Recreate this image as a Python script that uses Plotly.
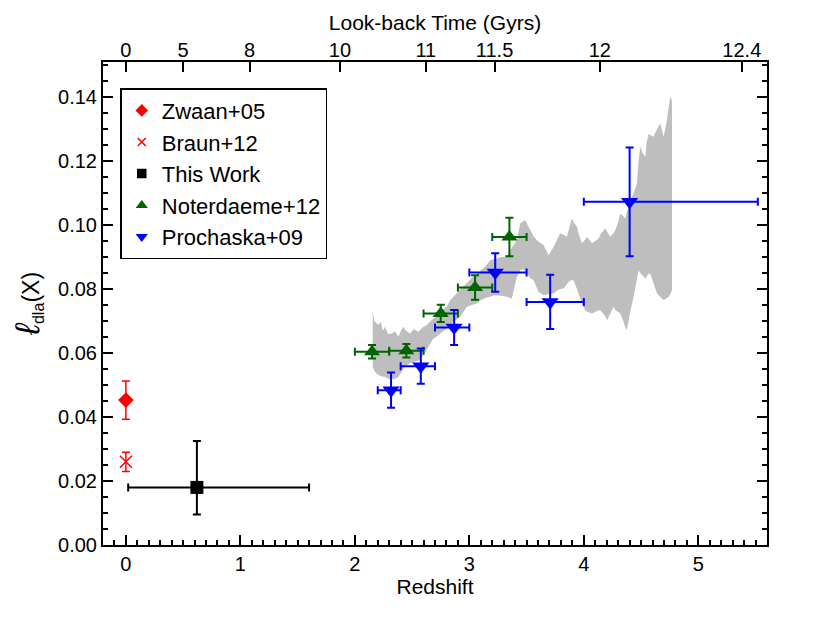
import plotly.graph_objects as go

# --- data ---
zwaan_z = [0.0]
zwaan_l = [0.0453]
zwaan_err = [0.006]

braun_z = [0.0]
braun_l = [0.026]
braun_err = [0.003]

work_z = [0.62]
work_l = [0.018]
work_zlo = [0.60]
work_zhi = [0.98]
work_llo = [0.0085]
work_lhi = [0.0145]

noter_z = [2.15, 2.45, 2.75, 3.05, 3.35]
noter_l = [0.0604, 0.0607, 0.0724, 0.0805, 0.0963]
noter_zerr = [0.15, 0.15, 0.15, 0.15, 0.15]
noter_lerr = [0.0021, 0.0021, 0.0027, 0.0038, 0.006]

proch_z = [2.316, 2.576, 2.867, 3.226, 3.706, 4.40]
proch_l = [0.0484, 0.0559, 0.068, 0.0852, 0.076, 0.1073]
proch_zlo = [0.116, 0.176, 0.167, 0.226, 0.206, 0.40]
proch_zhi = [0.084, 0.124, 0.133, 0.274, 0.294, 1.12]
proch_lerr = [0.0055, 0.0055, 0.0055, 0.006, 0.0085, 0.017]

# grey band: redshift, upper edge, lower edge
band_z = [2.156, 2.170, 2.190, 2.206, 2.225, 2.245, 2.264, 2.290, 2.322, 2.350,
          2.381, 2.405, 2.424, 2.450, 2.483, 2.515, 2.555, 2.590, 2.628, 2.657,
          2.685, 2.715, 2.745, 2.775, 2.803, 2.832, 2.860, 2.890, 2.920, 2.950,
          2.978, 3.020, 3.065, 3.100, 3.138, 3.182, 3.210, 3.240, 3.280, 3.327,
          3.371, 3.415, 3.444, 3.470, 3.488, 3.510, 3.531, 3.561, 3.590, 3.604,
          3.648, 3.670, 3.692, 3.735, 3.765, 3.793, 3.823, 3.852, 3.875, 3.896,
          3.910, 3.940, 3.954, 3.983, 4.012, 4.027, 4.071, 4.100, 4.129, 4.144,
          4.188, 4.202, 4.231, 4.260, 4.275, 4.300, 4.318, 4.345, 4.362, 4.376,
          4.400, 4.435, 4.464, 4.478, 4.493, 4.515, 4.537, 4.550, 4.566, 4.580,
          4.609, 4.639, 4.668, 4.697, 4.726, 4.741, 4.755, 4.770]
band_hi = [0.0729, 0.0700, 0.0693, 0.0688, 0.0698, 0.0670, 0.0682, 0.0660, 0.0661, 0.0668,
           0.0651, 0.0672, 0.0682, 0.0668, 0.0661, 0.0675, 0.0667, 0.0680, 0.0688, 0.0700,
           0.0708, 0.0714, 0.0730, 0.0738, 0.0745, 0.0765, 0.0775, 0.0786, 0.0800, 0.0808,
           0.0818, 0.0835, 0.0849, 0.0858, 0.0870, 0.0890, 0.0893, 0.0896, 0.0900, 0.0901,
           0.0930, 0.0953, 0.1005, 0.1012, 0.1016, 0.1000, 0.0984, 0.0965, 0.0953, 0.0948,
           0.0938, 0.0920, 0.0906, 0.0932, 0.0955, 0.0974, 0.0970, 0.0964, 0.0995, 0.1021,
           0.1010, 0.0995, 0.0975, 0.0943, 0.0955, 0.0964, 0.0943, 0.0950, 0.0958, 0.0970,
           0.0990, 0.0980, 0.0964, 0.0975, 0.0984, 0.1010, 0.1036, 0.1028, 0.1021, 0.1040,
           0.1070, 0.1100, 0.1130, 0.1200, 0.1245, 0.1225, 0.1214, 0.1260, 0.1286, 0.1282,
           0.1276, 0.1300, 0.1318, 0.1276, 0.1328, 0.1370, 0.1401, 0.1390]
band_lo = [0.0557, 0.0545, 0.0535, 0.0531, 0.0528, 0.0526, 0.0526, 0.0520, 0.0518, 0.0520,
           0.0525, 0.0540, 0.0552, 0.0560, 0.0568, 0.0572, 0.0576, 0.0590, 0.0610, 0.0630,
           0.0645, 0.0652, 0.0661, 0.0672, 0.0678, 0.0682, 0.0700, 0.0705, 0.0714, 0.0730,
           0.0745, 0.0750, 0.0755, 0.0765, 0.0772, 0.0776, 0.0780, 0.0781, 0.0779, 0.0776,
           0.0771, 0.0839, 0.0859, 0.0862, 0.0855, 0.0845, 0.0835, 0.0828, 0.0805, 0.0792,
           0.0781, 0.0783, 0.0785, 0.0786, 0.0795, 0.0800, 0.0802, 0.0815, 0.0825, 0.0828,
           0.0828, 0.0800, 0.0786, 0.0755, 0.0734, 0.0730, 0.0724, 0.0730, 0.0734, 0.0734,
           0.0715, 0.0703, 0.0725, 0.0745, 0.0735, 0.0728, 0.0724, 0.0700, 0.0680, 0.0672,
           0.0720, 0.0776, 0.0835, 0.0859, 0.0850, 0.0840, 0.0833, 0.0840, 0.0847, 0.0849,
           0.0815, 0.0786, 0.0775, 0.0766, 0.0772, 0.0776, 0.0785, 0.0797]

lookback_pos = [0.0, 0.5, 1.08, 1.87, 2.62, 3.22, 4.14, 5.38]
lookback_lab = ["0", "5", "8", "10", "11", "11.5", "12", "12.4"]

RED = "rgb(255,0,0)"
GREEN = "rgb(0,100,0)"
BLUE = "rgb(0,0,255)"
FONT = "Liberation Sans, Arial, sans-serif"

fig = go.Figure()

# shaded band
fig.add_trace(go.Scatter(x=band_z, y=band_lo, mode="lines", line=dict(width=0),
                         showlegend=False, hoverinfo="skip"))
fig.add_trace(go.Scatter(x=band_z, y=band_hi, mode="lines", line=dict(width=0),
                         fill="tonexty", fillcolor="rgb(190,190,190)",
                         showlegend=False, hoverinfo="skip"))

# data points
fig.add_trace(go.Scatter(x=zwaan_z, y=zwaan_l, mode="markers", showlegend=False,
                         marker=dict(symbol="diamond", size=12, color=RED),
                         error_y=dict(type="data", array=zwaan_err, color=RED,
                                      thickness=1.5, width=4)))
fig.add_trace(go.Scatter(x=braun_z, y=braun_l, mode="markers", showlegend=False,
                         marker=dict(symbol="x-thin", size=12,
                                     line=dict(color=RED, width=1.5)),
                         error_y=dict(type="data", array=braun_err, color=RED,
                                      thickness=1.5, width=4)))
fig.add_trace(go.Scatter(x=work_z, y=work_l, mode="markers", showlegend=False,
                         marker=dict(symbol="square", size=13, color="black"),
                         error_x=dict(type="data", symmetric=False, array=work_zhi,
                                      arrayminus=work_zlo, color="black",
                                      thickness=2, width=4),
                         error_y=dict(type="data", symmetric=False, array=work_lhi,
                                      arrayminus=work_llo, color="black",
                                      thickness=2, width=4)))
fig.add_trace(go.Scatter(x=noter_z, y=noter_l, mode="markers", showlegend=False,
                         marker=dict(symbol="triangle-up", size=14, color=GREEN),
                         error_x=dict(type="data", array=noter_zerr, color=GREEN,
                                      thickness=2, width=4),
                         error_y=dict(type="data", array=noter_lerr, color=GREEN,
                                      thickness=2, width=4)))
fig.add_trace(go.Scatter(x=proch_z, y=proch_l, mode="markers", showlegend=False,
                         marker=dict(symbol="triangle-down", size=15, color=BLUE),
                         error_x=dict(type="data", symmetric=False, array=proch_zhi,
                                      arrayminus=proch_zlo, color=BLUE,
                                      thickness=2, width=4),
                         error_y=dict(type="data", array=proch_lerr, color=BLUE,
                                      thickness=2, width=4)))

# legend entries (small symbols); they sit on the top axis so it gets drawn
for name, sym, col in [("Zwaan+05", "diamond", RED), ("Braun+12", "x-thin", RED),
                       ("This Work", "square", "black"),
                       ("Noterdaeme+12", "triangle-up", GREEN),
                       ("Prochaska+09", "triangle-down", BLUE)]:
    fig.add_trace(go.Scatter(x=[None], y=[None], mode="markers", name=name,
                             xaxis="x2",
                             marker=dict(symbol=sym, size=8, color=col,
                                         line=dict(color=col, width=1.5))))

axis_common = dict(showgrid=False, zeroline=False, linecolor="black", linewidth=2,
                   ticks="inside", tickcolor="black", tickwidth=2,
                   tickfont=dict(family=FONT, size=20, color="black"))

fig.update_layout(
    width=830, height=623,
    paper_bgcolor="white", plot_bgcolor="white",
    margin=dict(l=95, r=71, t=54, b=86),
    font=dict(family=FONT, color="black"),
    xaxis=dict(range=[-0.2, 5.6], dtick=1, ticklen=10, showline=True, mirror=True,
               minor=dict(dtick=0.1, ticklen=5, ticks="inside", tickwidth=2,
                          tickcolor="black"),
               title=dict(text="Redshift", font=dict(size=21), standoff=4),
               **axis_common),
    xaxis2=dict(range=[-0.2, 5.6], overlaying="x", side="top", anchor="y",
                tickmode="array", tickvals=lookback_pos, ticktext=lookback_lab,
                ticklen=10, showline=False,
                title=dict(text="Look-back Time (Gyrs)", font=dict(size=21), standoff=2),
                **axis_common),
    yaxis=dict(range=[0, 0.151], dtick=0.02, tickformat=".2f", ticklen=10,
               showline=True, mirror="ticks",
               minor=dict(dtick=0.005, ticklen=5, ticks="inside", tickwidth=2,
                          tickcolor="black"),
               title=dict(text="<span style='font-size:34px'><i>ℓ</i></span>"
                               "<sub>dla</sub>(X)",
                          font=dict(size=23), standoff=12),
               **axis_common),
    legend=dict(x=0.026, y=0.946, xanchor="left", yanchor="top",
                traceorder="normal",
                bordercolor="black", borderwidth=1.5, bgcolor="white",
                font=dict(family=FONT, size=22, color="black"),
                itemsizing="trace"),
)

fig.write_html("out.html")
